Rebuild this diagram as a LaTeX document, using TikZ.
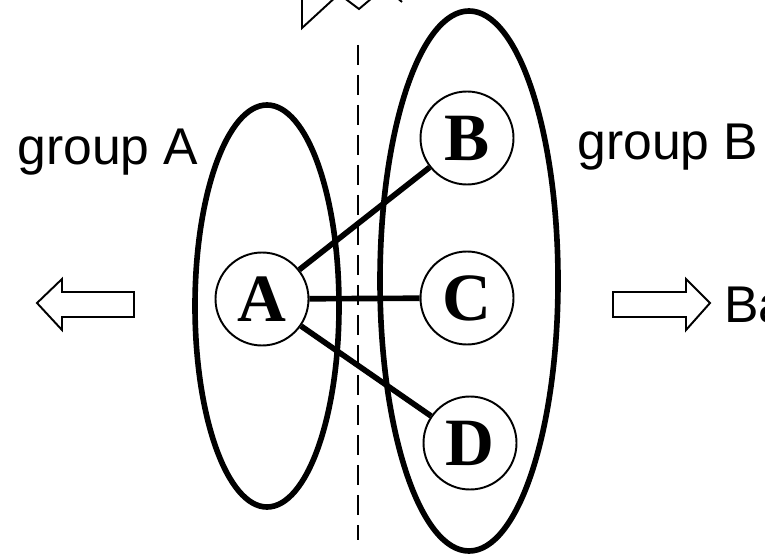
\documentclass[tikz,border=0pt]{standalone}
\usepackage{fontspec}
\setmainfont{Liberation Sans}
\newfontfamily\letraserif{Liberation Serif}
\usepackage{tikz}
\usetikzlibrary{shapes.geometric}
\usetikzlibrary{positioning}
\tikzset{
  vertice/.style={draw, circle, line width=1.1pt, minimum size=18.6mm, inner sep=0pt, font=\letraserif\fontsize{38.5}{40}\selectfont\bfseries},
  grupo/.style={draw, ellipse, line width=3.2pt, inner sep=0pt},
  aresta/.style={line width=3.2pt},
  rotulo/.style={font=\fontsize{29.4}{32}\selectfont, inner sep=0pt},
  seta/.style={line width=1.1pt, line join=miter},
}
\begin{document}
\begin{tikzpicture}[x=0.2mm, y=-0.2mm]
  \useasboundingbox (0,0) rectangle (765,554);
  \clip (0,0) rectangle (765,554);
  \node[grupo, minimum width=28.8mm, minimum height=80.4mm] (ga) at (267,306) {};
  \node[grupo, minimum width=35.6mm, minimum height=108mm] (gb) at (469,281) {};
  \draw[line width=1.1pt, dash pattern=on 4mm off 2mm] (358,45) -- (358,540);
  \node[vertice] (A) at (262,299) {A};
  \node[vertice] (B) at (467,138) {B};
  \node[vertice] (C) at (467,298) {C};
  \node[vertice] (D) at (470,443) {D};
  \draw[aresta] (A) -- (B);
  \draw[aresta] (A) -- (C);
  \draw[aresta] (A) -- (D);
  \node[rotulo, anchor=base west] (la) at (17,165) {group A};
  \node[rotulo, anchor=base west] (lb) at (577,160) {group B};
  \node[rotulo, anchor=base west] (lc) at (724,322) {Ba};
  \draw[seta] (134,292) -- (62,292) -- (62,279) -- (37,303) -- (62,330) -- (62,317) -- (134,317) -- cycle;
  \draw[seta] (613,292) -- (686,292) -- (686,279) -- (710,303) -- (686,330) -- (686,317) -- (613,317) -- cycle;
  \draw[seta] (302,-10) -- (302,28) -- (339,-6) -- (359,9) -- (372,-2);
  \draw[seta] (395,-4) -- (402,2);
\end{tikzpicture}
\end{document}
